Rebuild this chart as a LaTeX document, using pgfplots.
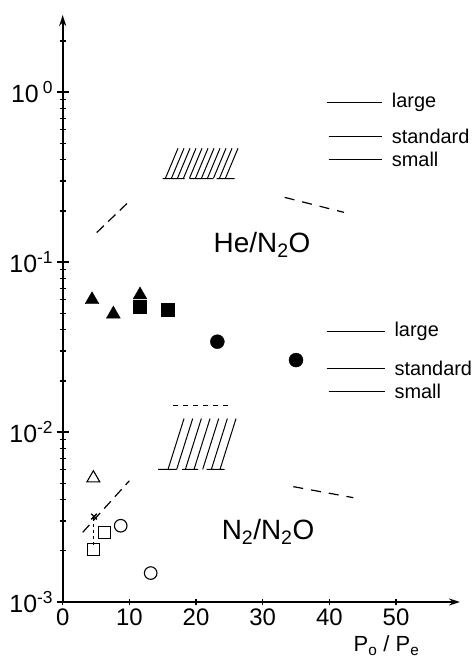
\documentclass[border=0pt]{standalone}
\usepackage{fontspec}
\setmainfont{Liberation Sans}
\usepackage{pgfplots}
\pgfplotsset{compat=1.18}
\usetikzlibrary{arrows.meta}
\begin{document}
\begin{tikzpicture}
\path[use as bounding box] (-62.7bp,-60bp) rectangle (412.3bp,602bp);
\begin{axis}[
  at={(0,0)}, anchor=south west,
  scale only axis, width=397.3bp, height=587bp,
  xmin=0, xmax=59.6, ymode=log, ymin=1e-3, ymax=2.84,
  axis lines=left,
  axis line style={line width=1.7bp, -{Stealth[length=11bp,width=7bp]}},
  xtick={0,10,20,30,40,50},
  ytick={0.001,0.01,0.1,1},
  minor ytick={0.002,0.003,0.004,0.005,0.006,0.007,0.008,0.009,0.02,0.03,0.04,0.05,0.06,0.07,0.08,0.09,0.2,0.3,0.4,0.5,0.6,0.7,0.8,0.9,2},
  yticklabels={10\textsuperscript{-3},10\textsuperscript{-2},10\textsuperscript{-1},10\,\textsuperscript{0}},
  tick style={line width=1.3bp, black},
  major tick length=12bp, minor tick length=6bp,
  xtick style={/pgfplots/major tick length=7bp},
  yticklabel style={font=\fontsize{25}{25}\selectfont},
  xticklabel style={font=\fontsize{24}{24}\selectfont, inner sep=1bp},
  /pgf/number format/assume math mode=true,
  clip=false,
  unbounded coords=jump,
]
% He/N2O filled markers
\addplot[only marks, mark=triangle*, mark size=8bp, black] coordinates {(4.4,0.060) (7.6,0.0494) (11.6,0.064)};
\addplot[only marks, mark=square*, mark size=6.5bp, black] coordinates {(11.6,0.0546) (15.8,0.0527)};
\addplot[only marks, mark=*, mark size=7bp, black] coordinates {(23.2,0.034) (35.0,0.0265)};
% N2/N2O open markers
\addplot[only marks, mark=triangle, mark size=7.5bp, black, mark options={line width=1.1bp}] coordinates {(4.6,0.00535)};
\addplot[only marks, mark=square, mark size=6bp, black, mark options={line width=1.1bp}] coordinates {(4.6,0.00204) (6.3,0.00257)};
\addplot[only marks, mark=o, mark size=6.3bp, black, mark options={line width=1.1bp}] coordinates {(8.7,0.00281) (13.2,0.00148)};
\addplot[only marks, mark=x, mark size=4bp, black, mark options={line width=1.3bp}] coordinates {(4.7,0.00318)};
\addplot[black, line width=1bp, dash pattern=on 3bp off 3bp] coordinates {(4.6,0.0031) (4.6,0.00216)};
% dashed curves
\addplot[black, line width=1.2bp, dash pattern=on 10bp off 6bp] coordinates {(5.1,0.149) (10.2,0.232)};
\addplot[black, line width=1.2bp, dash pattern=on 10bp off 8bp] coordinates {(33.3,0.240) (42.2,0.196)};
\addplot[black, line width=1.2bp, dash pattern=on 10bp off 6bp] coordinates {(3.0,0.00257) (10.0,0.00517)};
\addplot[black, line width=1.2bp, dash pattern=on 10bp off 8bp] coordinates {(34.6,0.00477) (43.6,0.00411)};
% He hatch
\addplot[black, line width=1bp] table[row sep=\\] {
x y\\
15.0 0.31\\ 18.3 0.31\\ nan nan\\
19.1 0.31\\ 22.5 0.31\\ nan nan\\
23.1 0.31\\ 25.8 0.31\\ nan nan\\
15.4 0.31\\ 17.3 0.467\\ nan nan\\
16.3 0.31\\ 18.2 0.467\\ nan nan\\
17.2 0.31\\ 19.1 0.467\\ nan nan\\
18.1 0.31\\ 20.0 0.467\\ nan nan\\
19.0 0.31\\ 20.9 0.467\\ nan nan\\
19.9 0.31\\ 21.8 0.467\\ nan nan\\
20.8 0.31\\ 22.7 0.467\\ nan nan\\
21.7 0.31\\ 23.6 0.467\\ nan nan\\
22.6 0.31\\ 24.5 0.467\\ nan nan\\
23.5 0.31\\ 25.4 0.467\\ nan nan\\
24.4 0.31\\ 26.3 0.467\\
};
% N2 hatch
\addplot[black, line width=1bp] table[row sep=\\] {
x y\\
14.3 0.00603\\ 17.1 0.00603\\ nan nan\\
17.9 0.00603\\ 20.3 0.00603\\ nan nan\\
21.6 0.00603\\ 24.3 0.00603\\ nan nan\\
15.8 0.00603\\ 18.2 0.012\\ nan nan\\
17.1 0.00603\\ 19.5 0.012\\ nan nan\\
18.4 0.00603\\ 20.8 0.012\\ nan nan\\
19.7 0.00603\\ 22.1 0.012\\ nan nan\\
21.0 0.00603\\ 23.4 0.012\\ nan nan\\
22.3 0.00603\\ 24.7 0.012\\ nan nan\\
23.6 0.00603\\ 26.0 0.012\\
};
\addplot[black, line width=1bp, dash pattern=on 5bp off 5bp] coordinates {(16.6,0.0143) (25.3,0.0143)};
% legend-like lines
\addplot[black, line width=0.9bp] table[row sep=\\] {
x y\\
39.6 0.869\\ 47.9 0.869\\ nan nan\\
39.9 0.551\\ 47.9 0.551\\ nan nan\\
39.9 0.403\\ 47.9 0.403\\ nan nan\\
39.6 0.0393\\ 48.3 0.0393\\ nan nan\\
39.6 0.0238\\ 48.3 0.0238\\ nan nan\\
39.9 0.01726\\ 48.3 0.01726\\
};
\begin{scope}[every node/.style={anchor=west, font=\fontsize{20}{20}\selectfont, inner sep=1bp}]
\node at (axis cs:49.2,0.869) {large};
\node at (axis cs:49.2,0.551) {standard};
\node at (axis cs:49.2,0.403) {small};
\node at (axis cs:49.6,0.0393) {large};
\node at (axis cs:49.6,0.0238) {standard};
\node at (axis cs:49.6,0.01726) {small};
\end{scope}
\node[font=\fontsize{28}{28}\selectfont] at (axis cs:29.9,0.126) {He/N\textsubscript{2}O};
\node[font=\fontsize{28}{28}\selectfont] at (axis cs:30.8,0.00259) {N\textsubscript{2}/N\textsubscript{2}O};
\node[font=\fontsize{22}{22}\selectfont, inner sep=0pt, anchor=base] at (rel axis cs:0.815,-0.085) {P\textsubscript{o} / P\textsubscript{e}};
\end{axis}
\end{tikzpicture}
\end{document}
